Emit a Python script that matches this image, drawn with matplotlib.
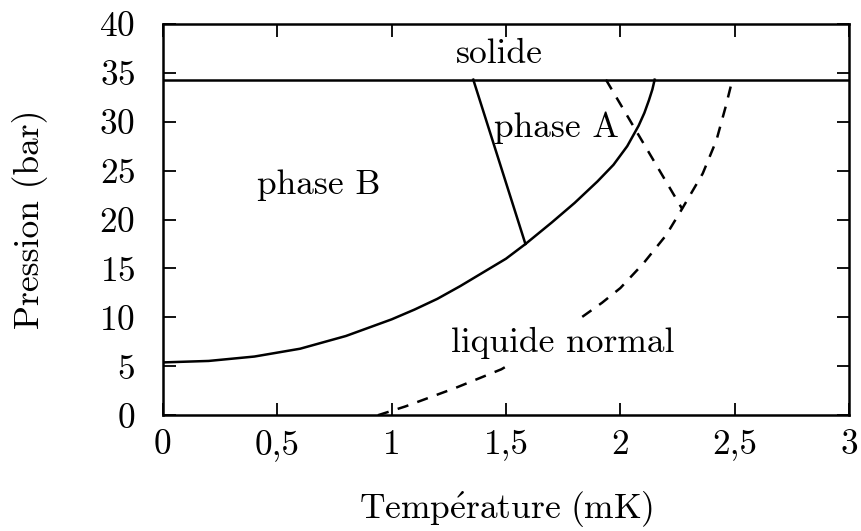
import numpy as np
import matplotlib
matplotlib.use("Agg")
import matplotlib.pyplot as plt

# melting line (bar)
p_melt = 34.3

# A-B transition line (solid)
ab_curve_T = [0.0, 0.2, 0.4, 0.6, 0.8, 1.0, 1.1, 1.2, 1.3, 1.4, 1.5, 1.585,
              1.7, 1.8, 1.9, 1.97, 2.03, 2.08, 2.105, 2.125, 2.14, 2.15]
ab_curve_P = [5.4, 5.55, 6.0, 6.8, 8.1, 9.8, 10.8, 11.9, 13.2, 14.6, 16.0, 17.5,
              19.7, 21.7, 23.9, 25.6, 27.5, 29.6, 30.9, 32.2, 33.3, 34.3]

# boundary between phase A and phase B
ab_line_T = [1.357, 1.585]
ab_line_P = [34.3, 17.5]

# dashed curves
dash1_T = [1.937, 2.27]
dash1_P = [34.3, 21.1]
dash2_T = [0.94, 1.06, 1.28, 1.48, 1.66, 1.83, 1.92, 2.00, 2.10, 2.20,
           2.27, 2.30, 2.36, 2.42, 2.46, 2.49]
dash2_P = [0.0, 0.9, 2.8, 4.7, 7.2, 10.0, 11.5, 13.0, 15.5, 18.4,
           21.1, 22.3, 24.7, 28.1, 31.5, 34.3]

xticks = [0, 0.5, 1, 1.5, 2, 2.5, 3]
xtick_labels = ["0", "0,5", "1", "1,5", "2", "2,5", "3"]
yticks = [0, 5, 10, 15, 20, 25, 30, 35, 40]

plt.rcParams["font.family"] = "serif"
plt.rcParams["font.serif"] = ["cmr10"]
plt.rcParams["mathtext.fontset"] = "cm"
plt.rcParams["axes.unicode_minus"] = False
plt.rcParams["axes.formatter.use_mathtext"] = True

fig = plt.figure(figsize=(8.62, 5.31), dpi=100)
ax = fig.add_axes([0.189, 0.218, 0.796, 0.737])

lw = 1.8
ax.axhline(p_melt, color="black", lw=lw)
ax.plot(ab_curve_T, ab_curve_P, color="black", lw=lw)
ax.plot(ab_line_T, ab_line_P, color="black", lw=lw)
ax.plot(dash1_T, dash1_P, color="black", lw=lw, dashes=(4.5, 3.8))
ax.plot(dash2_T, dash2_P, color="black", lw=lw, dashes=(4.5, 3.8))

fs = 25.5
ax.text(1.47, 36.9, "solide", fontsize=fs, ha="center", va="center")
ax.text(1.72, 29.4, "phase A", fontsize=fs, ha="center", va="center")
ax.text(0.68, 23.5, "phase B", fontsize=fs, ha="center", va="center")
ax.text(1.75, 7.4, "liquide normal", fontsize=fs, ha="center", va="center",
        bbox=dict(boxstyle="square,pad=0.15", fc="white", ec="none"), zorder=5)

ax.set_xlim(0, 3)
ax.set_ylim(0, 40)
ax.set_xticks(xticks)
ax.set_xticklabels(xtick_labels)
ax.set_yticks(yticks)
ax.tick_params(direction="in", top=True, right=True, length=9, width=1.3,
               labelsize=fs)
ax.tick_params(axis="x", pad=10)
ax.tick_params(axis="y", pad=20)
for s in ax.spines.values():
    s.set_linewidth(1.8)

ax.set_xlabel(r"$\mathrm{Temp\acute{e}rature\ (mK)}$", fontsize=fs, labelpad=21)
ax.set_ylabel("Pression (bar)", fontsize=fs, labelpad=37)

fig.savefig("out.png", dpi=100)
